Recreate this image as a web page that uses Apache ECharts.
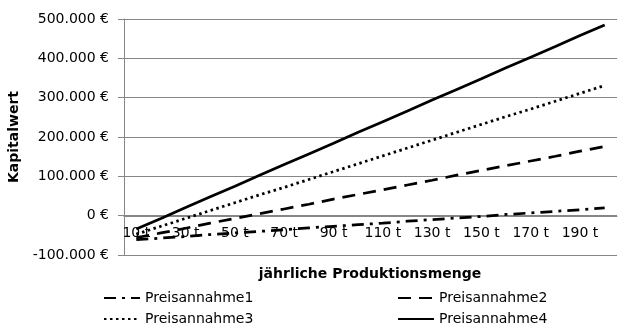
<!DOCTYPE html>
<html><head><meta charset="utf-8">
<script src="https://cdn.jsdelivr.net/npm/echarts@6/dist/echarts.min.js"></script>
<style>html,body{margin:0;padding:0;background:#fff}#c{width:630px;height:334px}</style>
</head><body><div id="c"></div>
<script>
const categories = ['10 t','20 t','30 t','40 t','50 t','60 t','70 t','80 t','90 t','100 t','110 t','120 t','130 t','140 t','150 t','160 t','170 t','180 t','190 t','200 t'];
const seriesNames = ['Preisannahme1','Preisannahme2','Preisannahme3','Preisannahme4'];
const preis1 = [-61000,-57000,-53000,-48000,-44000,-40000,-36000,-31000,-27000,-23000,-19000,-14000,-10000,-6000,-2000,3000,7000,11000,15000,20000];
const preis2 = [-56000,-44000,-32000,-19000,-7000,5000,17000,29000,42000,54000,66000,78000,90000,103000,115000,127000,139000,151000,164000,176000];
const preis3 = [-47000,-27000,-7000,13000,33000,53000,72000,92000,112000,132000,152000,172000,192000,212000,232000,252000,271000,291000,311000,331000];
const preis4 = [-34000,-7000,21000,48000,75000,103000,130000,157000,184000,212000,239000,266000,294000,321000,348000,376000,403000,430000,458000,485000];
const yTicks = {min:-100000, max:500000, interval:100000};
const xTitle = 'jährliche Produktionsmenge';
const yTitle = 'Kapitalwert';

const FONT = 'DejaVu Sans';
function fmt(v){
  const s = Math.abs(v).toString().replace(/\B(?=(\d{3})+(?!\d))/g,'.');
  return (v<0?'-':'') + s + ' €';
}
const styles = [
  {type:[12,6,3,6], width:2.75},
  {type:[13,8], width:2.75},
  {type:[2.5,3.5], width:2.75},
  {type:'solid', width:2.75}
];
const datas = [preis1,preis2,preis3,preis4];
const legendPos = [[103,291],[397,291],[103,312],[397,312]];

const chart = echarts.init(document.getElementById('c'));
chart.setOption({
  animation:false,
  grid:{left:124,right:13,top:19,bottom:79,containLabel:false,outerBoundsMode:'none'},
  xAxis:{
    type:'category', data:categories, boundaryGap:true,
    offset:-39,
    axisLine:{show:true,onZero:false,lineStyle:{color:'#868686',width:1}},
    axisTick:{show:false},
    axisLabel:{interval:1,margin:10,fontFamily:FONT,fontSize:14,color:'#000'},
    splitLine:{show:false}
  },
  yAxis:{
    type:'value', min:yTicks.min, max:yTicks.max, interval:yTicks.interval,
    name:yTitle, nameLocation:'middle', nameRotate:90, nameGap:99,
    nameTextStyle:{fontFamily:FONT,fontSize:14,fontWeight:'bold',color:'#000'},
    axisLine:{show:true,lineStyle:{color:'#868686',width:1}},
    axisTick:{show:true,length:6,lineStyle:{color:'#868686'}},
    axisLabel:{formatter:fmt,margin:15,fontFamily:FONT,fontSize:14,color:'#000'},
    splitLine:{show:true,lineStyle:{color:'#868686',width:1}}
  },
  legend: seriesNames.map((n,i)=>({
    data:[n], left:legendPos[i][0], top:legendPos[i][1], padding:0,
    itemWidth:36, itemHeight:14,
    itemStyle:{opacity:0},
    textStyle:{fontFamily:FONT,fontSize:14,color:'#000'}
  })),
  graphic:[
    {type:'text', x:370, y:274, style:{text:xTitle, font:'bold 14px "DejaVu Sans"', fill:'#000', align:'center', verticalAlign:'middle'}}
  ],
  series: seriesNames.map((n,i)=>({
    name:n, type:'line', data:datas[i], symbol:'none', showSymbol:false,
    lineStyle:{color:'#000', width:styles[i].width, type:styles[i].type, cap:'butt'},
    itemStyle:{color:'#000'}
  }))
});
</script></body></html>
